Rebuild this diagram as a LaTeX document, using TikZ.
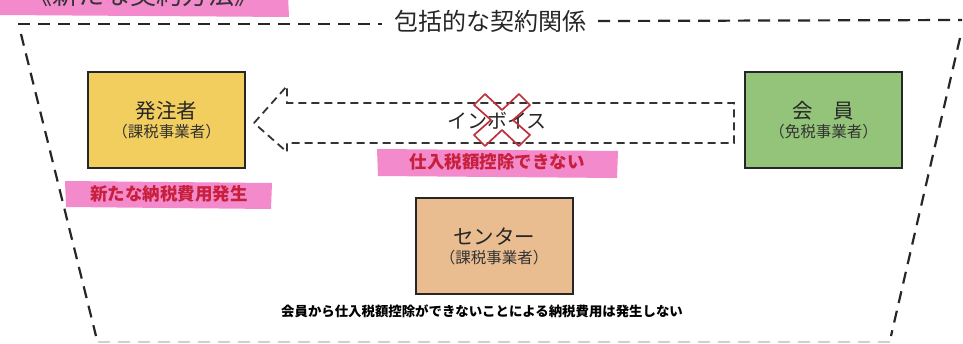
\documentclass[tikz,border=0pt]{standalone}
\usepackage{fontspec}
\setmainfont{Noto Sans CJK JP}
\usetikzlibrary{calc}
\definecolor{yellowbox}{HTML}{F2CE5E}
\definecolor{greenbox}{HTML}{93C47A}
\definecolor{tanbox}{HTML}{E9BD90}
\definecolor{hlpink}{HTML}{F38ACB}
\definecolor{redtxt}{HTML}{C8203C}
\definecolor{xred}{HTML}{C0303A}
\begin{document}
\begin{tikzpicture}[x=1pt,y=-1pt,
  box/.style={draw=black!85, line width=2pt, minimum width=157pt, minimum height=96pt, inner sep=0pt},
  bigtxt/.style={font=\fontsize{20.5}{20}\selectfont, text=black!85, inner sep=0pt},
  smalltxt/.style={font=\fontsize{15.5}{15}\selectfont, text=black!80, inner sep=0pt},
  hl/.style={fill=hlpink},
  redlabel/.style={font=\bfseries\fontsize{17.5}{17}\selectfont, text=redtxt, inner sep=0pt},
  frameline/.style={line width=2.2pt, dash pattern=on 12pt off 8pt, black!85},
  arrowline/.style={line width=1.8pt, dash pattern=on 8pt off 5pt, black!80, line join=miter},
]
\useasboundingbox (0,0) rectangle (963,343);
% top cut-off pink label
\fill[hlpink] (0,-5) -- (288,-5) -- (289,17) -- (0,15) -- cycle;
\node[font=\fontsize{26}{26}\selectfont, text=black!80, inner sep=0pt] (toplabel) at (143,-5) {《新たな契約方法》};
% trapezoid frame
\node[font=\fontsize{24}{24}\selectfont, text=black!85, inner sep=0pt] (title) at (490,21) {包括的な契約関係};
\coordinate (tl) at (18,24);
\coordinate (tr) at (962,20);
\coordinate (bl) at (96,336);
\coordinate (br) at (891,336);
\draw[frameline] (tl) -- ($(title.west)+(-12,3)$);
\draw[frameline] ($(title.east)+(12,0)$) -- (tr);
\draw[frameline] ($(tl)+(3,10)$) -- (bl);
\draw[frameline] ($(tr)+(-2,18)$) -- (br);
\draw[line width=2pt, dash pattern=on 12pt off 8pt, black!18] (98,342) -- (890,342);
% boxes
\node[box, fill=yellowbox] (hatchu) at (166.5,120) {};
\node[bigtxt] (hatchuA) at ($(hatchu.center)+(0,-9)$) {発注者};
\node[smalltxt] (hatchuB) at ($(hatchu.center)+(0,12)$) {（課税事業者）};
\node[box, fill=greenbox] (kaiin) at (823.5,120) {};
\node[bigtxt] (kaiinA) at ($(kaiin.center)+(0,-9)$) {会　員};
\node[smalltxt] (kaiinB) at ($(kaiin.center)+(0,12)$) {（免税事業者）};
\node[box, fill=tanbox] (center) at (494,246) {};
\node[bigtxt] (centerA) at ($(center.center)+(0,-9)$) {センター};
\node[smalltxt] (centerB) at ($(center.center)+(0,12)$) {（課税事業者）};
% invoice block arrow
\coordinate (tip) at ($(hatchu.east)+(8,3)$);
\coordinate (tail) at ($(kaiin.west)+(-10,0)$);
\draw[arrowline] (tip) -- (287,86) -- (287,103) -- (tail |- 0,103) -- (tail |- 0,143) -- (287,143) -- (287,152) -- cycle;
\node[font=\fontsize{20}{20}\selectfont, text=black!85, inner sep=0pt] (invoice) at (497,121) {インボイス};
\draw[xred, line width=1.7pt, line join=round, shift={(502,120)}]
  (-28,-15) -- (-17,-26) -- (0,-10) -- (17,-26) -- (28,-15) -- (11,0) -- (28,15) -- (17,26) -- (0,10) -- (-17,26) -- (-28,15) -- (-11,0) -- cycle;
% highlighted labels
\fill[hl] (377,149) -- (618,151) -- (617,178) -- (378,176) -- cycle;
\node[redlabel] (noded) at (497,162) {仕入税額控除できない};
\fill[hl] (65,181) -- (272,183) -- (271,209) -- (66,207) -- cycle;
\node[redlabel] (newtax) at (169,194) {新たな納税費用発生};
% bottom note
\node[font=\bfseries\fontsize{13.4}{13.4}\selectfont, text=black, inner sep=0pt] (note) at (482,311) {会員から仕入税額控除ができないことによる納税費用は発生しない};
\end{tikzpicture}
\end{document}
